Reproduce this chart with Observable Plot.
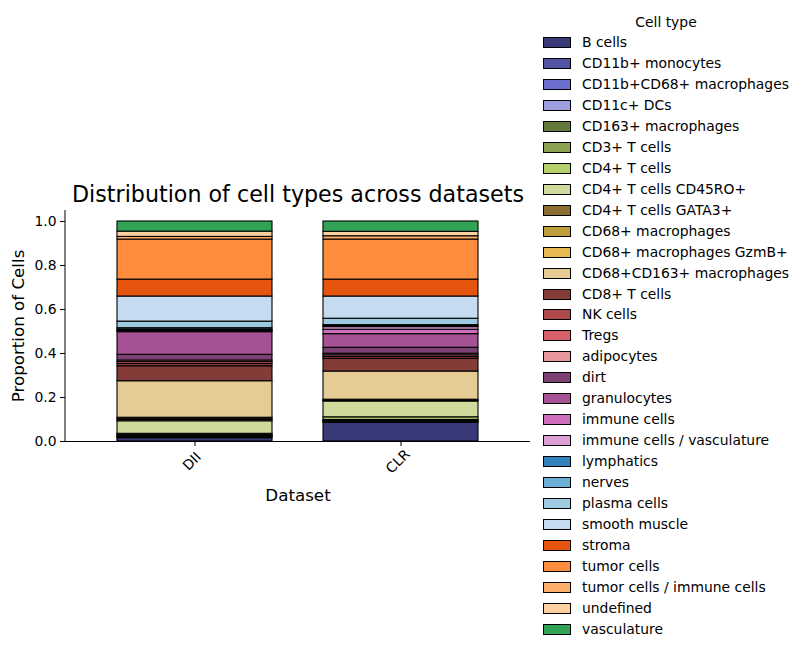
<!DOCTYPE html>
<html>
<head>
<meta charset="utf-8">
<script src="https://cdn.jsdelivr.net/npm/d3@7"></script>
<script src="https://cdn.jsdelivr.net/npm/@observablehq/plot@0.6"></script>
<style>
  html, body { margin: 0; padding: 0; background: #fff; }
  #wrap { position: relative; width: 804px; height: 652px; font-family: "DejaVu Sans", sans-serif; }
  #legend { position: absolute; left: 543px; top: 12px; font-size: 13.9px; color: #000; }
  #legend .ttl { position: absolute; left: 0; width: 246px; text-align: center; top: 2px; white-space: nowrap; }
  #legend .row { position: absolute; left: 0; white-space: nowrap; height: 16px; line-height: 16px; }
  #legend .sw { position: absolute; left: 0; top: 3px; width: 26px; height: 9px; border: 1px solid #000; }
  #legend .lb { position: absolute; left: 39px; top: 0; }
</style>
</head>
<body>
<div id="wrap"></div>
<script>
// Cell-type categories, stacked bottom to top
const cellTypes = [
  "B cells", "CD11b+ monocytes", "CD11b+CD68+ macrophages", "CD11c+ DCs",
  "CD163+ macrophages", "CD3+ T cells", "CD4+ T cells", "CD4+ T cells CD45RO+",
  "CD4+ T cells GATA3+", "CD68+ macrophages", "CD68+ macrophages GzmB+",
  "CD68+CD163+ macrophages", "CD8+ T cells", "NK cells", "Tregs", "adipocytes",
  "dirt", "granulocytes", "immune cells", "immune cells / vasculature",
  "lymphatics", "nerves", "plasma cells", "smooth muscle", "stroma",
  "tumor cells", "tumor cells / immune cells", "undefined", "vasculature"
];

const datasets = ["DII", "CLR"];

// Proportion of cells per type in each dataset
const diiValues = [
  0.015, 0.003, 0.003, 0.002, 0.004, 0.004, 0.004, 0.057,
  0.006, 0.006, 0.004, 0.166, 0.068, 0.010, 0.009, 0.007,
  0.026, 0.103, 0.004, 0.003, 0.005, 0.006, 0.030, 0.114,
  0.077, 0.182, 0.012, 0.024, 0.046
];
const clrValues = [
  0.085, 0.003, 0.002, 0.002, 0.002, 0.004, 0.012, 0.072,
  0.002, 0.003, 0.003, 0.128, 0.058, 0.008, 0.008, 0.007,
  0.027, 0.062, 0.020, 0.012, 0.004, 0.005, 0.029, 0.101,
  0.077, 0.182, 0.015, 0.020, 0.047
];

const yTicks = [0, 0.2, 0.4, 0.6, 0.8, 1.0];

// tab20b followed by tab20c
const palette = [
  "#393b79", "#5254a3", "#6b6ecf", "#9c9ede", "#637939", "#8ca252", "#b5cf6b", "#cedb9c",
  "#8c6d31", "#bd9e39", "#e7ba52", "#e7cb94", "#843c39", "#ad494a", "#d6616b", "#e7969c",
  "#7b4173", "#a55194", "#ce6dbd", "#de9ed6",
  "#3182bd", "#6baed6", "#9ecae1", "#c6dbef", "#e6550d", "#fd8d3c", "#fdae6b", "#fdd0a2", "#31a354"
];

const valuesByDataset = {DII: diiValues, CLR: clrValues};
const rows = [];
for (const ds of datasets) {
  cellTypes.forEach((ct, i) => rows.push({dataset: ds, type: ct, value: valuesByDataset[ds][i]}));
}

// left spine drawn at the frame edge
const leftSpine = (index, scales, values, dims) => {
  const g = d3.create("svg:line")
    .attr("x1", dims.marginLeft).attr("x2", dims.marginLeft)
    .attr("y1", dims.marginTop).attr("y2", dims.height - dims.marginBottom)
    .attr("stroke", "#000").attr("stroke-width", 1);
  return g.node();
};

const chart = Plot.plot({
  width: 804,
  height: 652,
  marginLeft: 65,
  marginRight: 274,
  marginTop: 210,
  marginBottom: 211,
  style: {fontFamily: "DejaVu Sans, sans-serif", fontSize: "13.9px", color: "#000", background: "#fff"},
  x: {domain: datasets, padding: 0.25, label: null},
  y: {domain: [0, 1.05], label: null},
  color: {domain: cellTypes, range: palette},
  marks: [
    Plot.barY(rows, {x: "dataset", y: "value", fill: "type", stroke: "#000", strokeWidth: 1.1, order: null}),
    Plot.axisY({ticks: yTicks, tickFormat: d3.format(".1f"), tickSize: 5, tickPadding: 4, fontSize: 13.9, label: null}),
    Plot.axisX({tickSize: 5, label: null, text: null}),
    Plot.text(datasets, {x: d => d, frameAnchor: "bottom", dy: 20, dx: -3, rotate: -45,
      textAnchor: "middle", lineAnchor: "middle", fontSize: 13.9}),
    Plot.ruleY([0], {stroke: "#000", strokeWidth: 1}),
    leftSpine,
    Plot.text(["Distribution of cell types across datasets"], {frameAnchor: "top", dy: -9,
      lineAnchor: "bottom", fontSize: 22.2}),
    Plot.text(["Dataset"], {frameAnchor: "bottom", dy: 54, lineAnchor: "middle", fontSize: 16.7}),
    Plot.text(["Proportion of Cells"], {frameAnchor: "left", dx: -47, rotate: -90,
      textAnchor: "middle", lineAnchor: "middle", fontSize: 16.7})
  ]
});

const wrap = document.getElementById("wrap");
wrap.appendChild(chart);

// legend listing every cell type with its swatch
const color = chart.scale("color");
const legend = document.createElement("div");
legend.id = "legend";
const ttl = document.createElement("div");
ttl.className = "ttl";
ttl.textContent = "Cell type";
legend.appendChild(ttl);
const rowStep = 20.96;
cellTypes.forEach((ct, i) => {
  const row = document.createElement("div");
  row.className = "row";
  row.style.top = (22 + i * rowStep) + "px";
  const sw = document.createElement("div");
  sw.className = "sw";
  sw.style.background = palette[color.domain.indexOf(ct)];
  const lb = document.createElement("div");
  lb.className = "lb";
  lb.textContent = ct;
  row.appendChild(sw);
  row.appendChild(lb);
  legend.appendChild(row);
});
wrap.appendChild(legend);
</script>
</body>
</html>
